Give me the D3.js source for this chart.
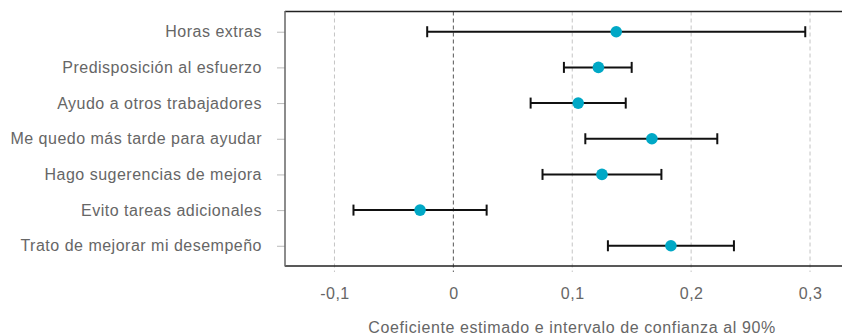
<!DOCTYPE html>
<html>
<head>
<meta charset="utf-8">
<script src="https://cdn.jsdelivr.net/npm/d3@7"></script>
<style>
  html, body { margin: 0; padding: 0; background: #fff; }
  svg { display: block; font-family: "Liberation Sans", Arial, Helvetica, sans-serif; }
</style>
</head>
<body>
<svg id="chart" width="842" height="336"></svg>
<script>
// Coefficient estimates with 90% confidence intervals
const categories = [
  "Horas extras",
  "Predisposición al esfuerzo",
  "Ayudo a otros trabajadores",
  "Me quedo más tarde para ayudar",
  "Hago sugerencias de mejora",
  "Evito tareas adicionales",
  "Trato de mejorar mi desempeño"
];
const estimates = [0.137, 0.122, 0.105, 0.167, 0.125, -0.028, 0.183];
const lowerBounds = [-0.022, 0.093, 0.065, 0.111, 0.075, -0.084, 0.130];
const upperBounds = [0.296, 0.150, 0.145, 0.222, 0.175, 0.028, 0.236];
const tickValues = [-0.1, 0, 0.1, 0.2, 0.3];
const axisTitle = "Coeficiente estimado e intervalo de confianza al 90%";

const svg = d3.select("#chart");
const W = 842;
const plot = { left: 285, right: 842, top: 11.5, bottom: 266 };
const textColor = "#666";
const fontSize = 16;
const spacing = "0.5px";

const x = d3.scaleLinear()
  .domain([-0.1416, 0.3269])
  .range([plot.left, plot.right]);

const y = d3.scalePoint()
  .domain(categories)
  .range([plot.top, plot.bottom])
  .padding(0.567);

// Decimal comma and plain hyphen for negatives
const tickFmt = v => v === 0 ? "0" : d3.format(".1f")(v).replace(".", ",").replace("\u2212", "-");

// Vertical dashed reference lines
svg.append("g")
  .selectAll("line")
  .data(tickValues)
  .join("line")
  .attr("x1", d => x(d)).attr("x2", d => x(d))
  .attr("y1", plot.top).attr("y2", plot.bottom + 6)
  .attr("stroke", d => d === 0 ? "#555" : "#c4c4c4")
  .attr("stroke-width", 1)
  .attr("stroke-dasharray", "4,3");

// Top frame line
svg.append("line")
  .attr("x1", plot.left).attr("x2", W)
  .attr("y1", plot.top).attr("y2", plot.top)
  .attr("stroke", "#222").attr("stroke-width", 1.3);

// Bottom axis
const xAxis = d3.axisBottom(x)
  .tickValues(tickValues)
  .tickFormat(tickFmt)
  .tickSize(0)
  .tickPadding(22);
const gx = svg.append("g")
  .attr("transform", `translate(0,${plot.bottom})`)
  .call(xAxis);
gx.select(".domain").remove();
gx.selectAll("text")
  .attr("fill", textColor)
  .attr("font-size", fontSize)
  .attr("letter-spacing", spacing)
  .attr("font-family", "Liberation Sans, Arial, sans-serif");
svg.append("line")
  .attr("x1", plot.left).attr("x2", W)
  .attr("y1", plot.bottom).attr("y2", plot.bottom)
  .attr("stroke", "#222").attr("stroke-width", 1.3);

// Left axis with category labels
const yAxis = d3.axisLeft(y)
  .tickSize(8)
  .tickPadding(15);
const gy = svg.append("g")
  .attr("transform", `translate(${plot.left},0)`)
  .call(yAxis);
gy.select(".domain").remove();
gy.selectAll(".tick line").attr("stroke", "#bbb").attr("stroke-width", 1);
gy.selectAll("text")
  .attr("fill", textColor)
  .attr("font-size", fontSize)
  .attr("letter-spacing", spacing)
  .attr("font-family", "Liberation Sans, Arial, sans-serif");
svg.append("line")
  .attr("x1", plot.left).attr("x2", plot.left)
  .attr("y1", plot.top - 0.6).attr("y2", plot.bottom + 0.6)
  .attr("stroke", "#666").attr("stroke-width", 1.5);

// Confidence intervals
const rows = categories.map((c, i) => ({
  cat: c, est: estimates[i], lo: lowerBounds[i], hi: upperBounds[i]
}));
const capH = 5.5;
const g = svg.append("g");
g.selectAll("line.ci")
  .data(rows)
  .join("line")
  .attr("class", "ci")
  .attr("x1", d => x(d.lo)).attr("x2", d => x(d.hi))
  .attr("y1", d => y(d.cat)).attr("y2", d => y(d.cat))
  .attr("stroke", "#111").attr("stroke-width", 2);
["lo", "hi"].forEach(k => {
  g.selectAll("line.cap-" + k)
    .data(rows)
    .join("line")
    .attr("class", "cap-" + k)
    .attr("x1", d => x(d[k])).attr("x2", d => x(d[k]))
    .attr("y1", d => y(d.cat) - capH).attr("y2", d => y(d.cat) + capH)
    .attr("stroke", "#111").attr("stroke-width", 2);
});

// Point estimates
g.selectAll("circle")
  .data(rows)
  .join("circle")
  .attr("cx", d => x(d.est))
  .attr("cy", d => y(d.cat))
  .attr("r", 5.8)
  .attr("fill", "#00a8c6");

// Axis title
svg.append("text")
  .attr("x", 572)
  .attr("y", 333)
  .attr("text-anchor", "middle")
  .attr("fill", textColor)
  .attr("font-size", fontSize)
  .attr("letter-spacing", "0.6px")
  .text(axisTitle);
</script>
</body>
</html>
